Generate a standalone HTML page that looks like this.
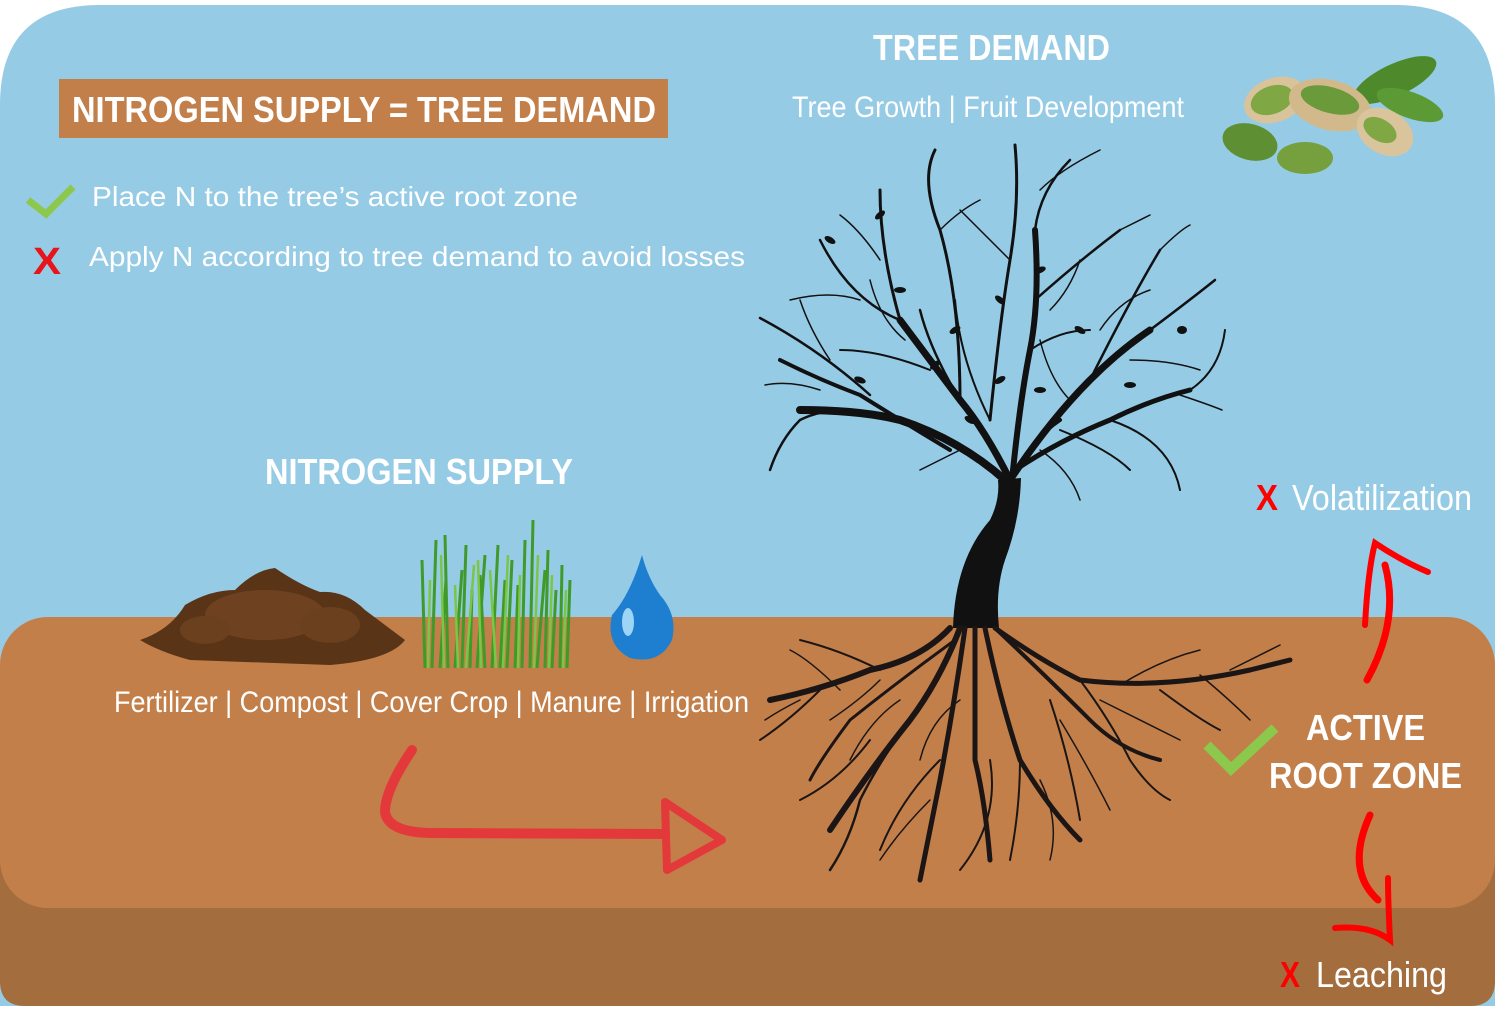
<!DOCTYPE html>
<html><head><meta charset="utf-8"><style>
html,body{margin:0;padding:0;background:#fff;}
svg{display:block;}
text{font-family:"Liberation Sans",sans-serif;fill:#fff;}
</style></head><body>
<svg width="1500" height="1022" viewBox="0 0 1500 1022" xmlns="http://www.w3.org/2000/svg">
<path d="M0,1006 L0,105 Q0,5 100,5 L1395,5 Q1495,5 1495,105 L1495,1006 Z" fill="#96CBE5"/>
<path d="M0,860 L1495,860 L1495,981 Q1495,1006 1470,1006 L25,1006 Q0,1006 0,981 Z" fill="#A36D3D"/>
<rect x="0" y="617" width="1495" height="291" rx="48" ry="48" fill="#C27F4A"/>

<rect x="59" y="79" width="609" height="59" fill="#C27F4A"/>
<text x="72" y="122" font-size="36" font-weight="bold" textLength="584" lengthAdjust="spacingAndGlyphs">NITROGEN SUPPLY = TREE DEMAND</text>

<path d="M28,200 L46,214 L73,187" stroke="#8CC84B" stroke-width="7" fill="none"/>
<text x="92" y="206" font-size="28" textLength="486" lengthAdjust="spacingAndGlyphs">Place N to the tree’s active root zone</text>
<text x="33" y="274" font-size="38" font-weight="bold" style="fill:#E8141B" textLength="28" lengthAdjust="spacingAndGlyphs">X</text>
<text x="89" y="266" font-size="28" textLength="656" lengthAdjust="spacingAndGlyphs">Apply N according to tree demand to avoid losses</text>

<text x="873" y="60" font-size="36" font-weight="bold" textLength="237" lengthAdjust="spacingAndGlyphs">TREE DEMAND</text>
<text x="792" y="117" font-size="30" textLength="392" lengthAdjust="spacingAndGlyphs">Tree Growth | Fruit Development</text>

<!-- pistachios -->
<g>
<ellipse cx="1395" cy="80" rx="45" ry="16" fill="#4E8A2C" transform="rotate(-25 1395 80)"/>
<ellipse cx="1410" cy="105" rx="35" ry="13" fill="#5C9A35" transform="rotate(20 1410 105)"/>
<ellipse cx="1275" cy="100" rx="32" ry="22" fill="#D8C39A" transform="rotate(-20 1275 100)"/>
<ellipse cx="1272" cy="100" rx="22" ry="14" fill="#7FA845" transform="rotate(-20 1272 100)"/>
<ellipse cx="1330" cy="105" rx="42" ry="25" fill="#D2B98C" transform="rotate(15 1330 105)"/>
<ellipse cx="1330" cy="100" rx="30" ry="13" fill="#6A9A3A" transform="rotate(15 1330 100)"/>
<ellipse cx="1385" cy="132" rx="30" ry="22" fill="#D9C49C" transform="rotate(30 1385 132)"/>
<ellipse cx="1380" cy="130" rx="18" ry="11" fill="#7FA845" transform="rotate(30 1380 130)"/>
<ellipse cx="1250" cy="142" rx="28" ry="18" fill="#5E8F32" transform="rotate(15 1250 142)"/>
<ellipse cx="1305" cy="158" rx="28" ry="16" fill="#769F3E"/>
</g>

<text x="265" y="484" font-size="36" font-weight="bold" textLength="308" lengthAdjust="spacingAndGlyphs">NITROGEN SUPPLY</text>

<path d="M140,640 Q170,630 185,605 Q210,590 235,590 Q255,570 275,568 Q300,585 320,592 Q345,590 365,610 Q385,625 405,640 Q390,660 330,665 L190,660 Q160,652 140,640 Z" fill="#5A3416"/>
<ellipse cx="265" cy="615" rx="60" ry="25" fill="#6E4220"/>
<ellipse cx="330" cy="625" rx="30" ry="18" fill="#6B401E"/>
<ellipse cx="205" cy="630" rx="25" ry="14" fill="#6B401E"/>

<g stroke="#3F9A2A" stroke-width="3" fill="none">
<path d="M425,668 L422,560 M432,668 L436,540 M440,668 L446,580 M448,668 L445,535 M455,668 L462,570 M462,668 L466,545 M470,668 L472,590 M477,668 L485,555 M485,668 L480,575 M492,668 L498,545 M500,668 L505,580 M507,668 L512,560 M515,668 L518,585 M522,668 L525,540 M530,668 L533,520 M537,668 L545,570 M545,668 L548,550 M552,668 L556,590 M560,668 L562,565 M567,668 L570,580"/>
</g>
<g stroke="#7BC644" stroke-width="2.5" fill="none">
<path d="M428,668 L430,580 M444,668 L441,555 M458,668 L455,585 M466,668 L474,565 M481,668 L478,560 M496,668 L490,570 M503,668 L508,555 M518,668 L520,575 M534,668 L538,555 M549,668 L552,575 M563,668 L566,590"/>
</g>

<path d="M642,555 Q630,595 612,615 Q605,645 630,658 Q660,665 672,640 Q678,615 660,595 Q648,578 642,555 Z" fill="#1E7FD0"/>
<ellipse cx="628" cy="622" rx="6" ry="14" fill="#9ED4F5"/>

<text x="114" y="712" font-size="30" textLength="635" lengthAdjust="spacingAndGlyphs">Fertilizer | Compost | Cover Crop | Manure | Irrigation</text>

<path d="M412,750 Q385,790 385,812 Q388,832 430,833 L665,834" stroke="#E3393A" stroke-width="10" fill="none" stroke-linecap="round"/>
<path d="M665,802 L722,840 L667,870 Z" stroke="#E3393A" stroke-width="8" fill="none" stroke-linejoin="round"/>

<!-- tree -->
<g stroke="#111" fill="none" stroke-linecap="round">
<path d="M953,628 Q955,560 990,520 Q1000,500 998,480 L1021,478 Q1020,520 1005,560 Q995,590 999,628 Z" fill="#111" stroke="none"/>
<path d="M1005,480 Q960,440 900,420 Q860,410 800,410" stroke-width="8"/>
<path d="M1010,480 Q985,430 960,400 Q930,360 900,320" stroke-width="7"/>
<path d="M1010,480 Q1050,420 1090,380 Q1120,350 1150,330" stroke-width="7"/>
<path d="M1012,480 Q1020,400 1030,350 Q1040,300 1035,230" stroke-width="6"/>
<path d="M1015,470 Q1060,440 1110,420 Q1150,400 1190,390" stroke-width="5"/>
<path d="M950,450 Q900,420 860,395 Q820,380 780,360" stroke-width="4"/>
<path d="M900,420 Q840,400 800,420 Q780,440 770,470" stroke-width="2.5"/>
<path d="M870,395 Q820,350 760,318" stroke-width="2.5"/>
<path d="M900,320 Q880,250 880,190" stroke-width="3"/>
<path d="M900,320 Q850,300 820,240" stroke-width="2.5"/>
<path d="M960,400 Q960,300 940,230 Q920,180 935,150" stroke-width="3"/>
<path d="M990,420 Q1000,320 1010,260 Q1020,200 1015,145" stroke-width="3"/>
<path d="M1035,230 Q1040,190 1070,160" stroke-width="2.5"/>
<path d="M1035,300 Q1080,260 1120,230" stroke-width="2.5"/>
<path d="M1090,380 Q1130,300 1160,250" stroke-width="2.5"/>
<path d="M1150,330 Q1190,300 1215,280" stroke-width="2.5"/>
<path d="M1190,390 Q1220,370 1225,330" stroke-width="2"/>
<path d="M1110,420 Q1170,440 1180,490" stroke-width="2"/>
<path d="M1060,430 Q1110,450 1130,470" stroke-width="2"/>
<path d="M960,400 Q930,350 920,310" stroke-width="2.5"/>
<path d="M930,370 Q880,350 840,350" stroke-width="2"/>
<path d="M1030,350 Q1060,330 1090,330" stroke-width="2"/>
<path d="M990,420 Q960,360 955,300" stroke-width="2"/>
<path d="M1012,480 Q1030,440 1060,420" stroke-width="4"/>
<!-- extra fine twigs -->
<path d="M880,260 Q860,230 840,215 M860,300 Q830,290 790,300 M820,390 Q790,380 765,385 M940,230 Q960,210 980,200 M1010,260 Q980,230 960,210 M1040,190 Q1060,170 1100,150 M1120,230 Q1140,220 1150,215 M1160,250 Q1180,230 1190,225 M1130,360 Q1170,360 1200,370 M1180,395 Q1210,405 1222,410 M1070,400 Q1050,380 1040,340 M960,450 Q940,460 920,470 M1040,450 Q1070,470 1080,500 M830,360 Q810,330 800,300 M905,340 Q880,320 870,280 M1050,310 Q1070,290 1080,260 M1100,330 Q1120,300 1150,290" stroke-width="1.5"/>
</g>
<g fill="#111">
<ellipse cx="880" cy="215" rx="6" ry="3" transform="rotate(-40 880 215)"/>
<ellipse cx="830" cy="240" rx="6" ry="3" transform="rotate(30 830 240)"/>
<ellipse cx="900" cy="290" rx="6" ry="3"/>
<ellipse cx="955" cy="330" rx="6" ry="3" transform="rotate(-30 955 330)"/>
<ellipse cx="1000" cy="300" rx="6" ry="3" transform="rotate(40 1000 300)"/>
<ellipse cx="1040" cy="270" rx="6" ry="3" transform="rotate(-20 1040 270)"/>
<ellipse cx="1080" cy="330" rx="6" ry="3" transform="rotate(30 1080 330)"/>
<ellipse cx="1130" cy="385" rx="6" ry="3"/>
<ellipse cx="1182" cy="330" rx="5" ry="4"/>
<ellipse cx="1000" cy="380" rx="6" ry="3" transform="rotate(-30 1000 380)"/>
<ellipse cx="970" cy="420" rx="6" ry="3" transform="rotate(30 970 420)"/>
<ellipse cx="1040" cy="390" rx="6" ry="3"/>
<ellipse cx="860" cy="380" rx="6" ry="3" transform="rotate(20 860 380)"/>
<ellipse cx="935" cy="365" rx="6" ry="3" transform="rotate(-40 935 365)"/>
</g>
<!-- roots -->
<g stroke="#1B1615" fill="none" stroke-linecap="round">
<path d="M950,628 Q920,660 870,670 Q820,690 770,700" stroke-width="6"/>
<path d="M960,628 Q940,680 910,720 Q870,770 830,830" stroke-width="6"/>
<path d="M965,628 Q955,700 940,780 Q930,830 920,880" stroke-width="5"/>
<path d="M975,628 Q975,700 975,760 Q985,800 990,860" stroke-width="5"/>
<path d="M985,628 Q1000,700 1020,760 Q1050,810 1080,840" stroke-width="5"/>
<path d="M995,628 Q1040,660 1080,680 Q1160,690 1250,670 Q1270,665 1290,660" stroke-width="5"/>
<path d="M995,628 Q1050,680 1090,720 Q1120,750 1160,760" stroke-width="4"/>
<path d="M955,640 Q900,680 850,720 Q820,760 810,780" stroke-width="3"/>
<path d="M880,670 Q840,650 800,640" stroke-width="2"/>
<path d="M910,720 Q880,760 860,800 Q850,840 830,870" stroke-width="2.5"/>
<path d="M940,760 Q900,800 880,850" stroke-width="2"/>
<path d="M1020,760 Q1020,810 1010,860" stroke-width="2"/>
<path d="M1080,680 Q1110,720 1130,760 Q1150,790 1170,800" stroke-width="2"/>
<path d="M1160,690 Q1200,720 1220,730" stroke-width="2"/>
<path d="M1050,700 Q1070,760 1080,820" stroke-width="2"/>
<path d="M820,690 Q790,720 760,740" stroke-width="2"/>
<path d="M870,740 Q840,780 800,800" stroke-width="2"/>
<path d="M990,760 Q1000,820 960,870" stroke-width="2"/>
<path d="M840,690 Q810,660 790,650 M900,700 Q870,720 850,760 M1100,700 Q1140,720 1180,740 M1120,685 Q1160,660 1200,650 M1200,675 Q1230,700 1250,720 M930,800 Q900,830 880,860 M1040,780 Q1060,820 1050,860 M880,680 Q860,700 830,720 M1060,720 Q1090,770 1110,810 M960,700 Q930,720 920,760 M800,700 Q780,710 765,720 M1230,670 Q1260,655 1280,645" stroke-width="1.5"/>
</g>

<text x="1256" y="510" font-size="36" font-weight="bold" style="fill:#F00" textLength="22" lengthAdjust="spacingAndGlyphs">X</text>
<text x="1292" y="510" font-size="36" textLength="180" lengthAdjust="spacingAndGlyphs">Volatilization</text>
<path d="M1367,680 Q1400,620 1385,565" stroke="#F00" stroke-width="7" fill="none" stroke-linecap="round"/>
<path d="M1365,625 Q1368,570 1375,543 Q1400,560 1428,572" stroke="#F00" stroke-width="6" fill="none" stroke-linecap="round"/>

<path d="M1207,745 L1231,769 L1275,728" stroke="#8CC84B" stroke-width="10" fill="none"/>
<text x="1306" y="740" font-size="36" font-weight="bold" textLength="119" lengthAdjust="spacingAndGlyphs">ACTIVE</text>
<text x="1269" y="788" font-size="36" font-weight="bold" textLength="193" lengthAdjust="spacingAndGlyphs">ROOT ZONE</text>

<path d="M1370,815 Q1345,870 1378,900" stroke="#F00" stroke-width="7" fill="none" stroke-linecap="round"/>
<path d="M1335,928 Q1370,925 1390,940 Q1388,900 1388,878" stroke="#F00" stroke-width="6" fill="none" stroke-linecap="round"/>
<text x="1280" y="987" font-size="36" font-weight="bold" style="fill:#F00" textLength="20" lengthAdjust="spacingAndGlyphs">X</text>
<text x="1316" y="987" font-size="36" textLength="131" lengthAdjust="spacingAndGlyphs">Leaching</text>
</svg>
</body></html>
